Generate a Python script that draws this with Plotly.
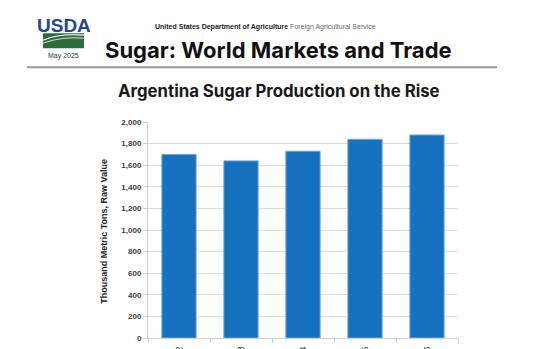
import plotly.graph_objects as go

# Marketing years and production (thousand metric tons, raw value)
years = ["2021/22", "2022/23", "2023/24", "2024/25", "2025/26"]
production = [1700, 1640, 1730, 1840, 1880]
y_ticks = [0, 200, 400, 600, 800, 1000, 1200, 1400, 1600, 1800, 2000]
y_tick_text = ["{:,}".format(v) for v in y_ticks]

W, H = 560, 349
L, R, T, B = 148, 458, 122, 338.5  # plot area in pixels


def px(x):
    return (x - L) / (R - L)


def py(y):
    return (B - y) / (B - T)


def note(x, y, text, font, **kw):
    return dict(x=px(x), y=py(y), xref="paper", yref="paper", text=text,
                showarrow=False, font=font, yanchor="middle", **kw)


fig = go.Figure()
fig.add_trace(go.Bar(
    x=years, y=production,
    marker=dict(color="#1670BE", line=dict(color="#6FA8DC", width=1)),
    hoverinfo="x+y",
))

annotations = [
    # masthead
    note(63.5, 25, "<b>USDA</b>",
         dict(family="Liberation Sans Narrow, Arial Narrow, Liberation Sans", size=19, color="#23488A"),
         xanchor="center"),
    note(63.5, 56, "May 2025",
         dict(family="Liberation Sans, Arial", size=7, color="#333333"),
         xanchor="center"),
    note(153, 27,
         "<b>United States Department of Agriculture</b> <span style='color:#666666'>Foreign Agricultural Service</span>",
         dict(family="Liberation Sans, Arial", size=7, color="#222222"),
         xanchor="left"),
    note(103, 50, "<b>Sugar: World Markets and Trade</b>",
         dict(family="Inter, Roboto, sans-serif", size=22, color="#111111"),
         xanchor="left"),
    # chart title
    note(279, 90.5, "<b>Argentina Sugar Production on the Rise</b>",
         dict(family="Inter, Roboto, sans-serif", size=16.8, color="#1a1a1a"),
         xanchor="center"),
    # y-axis title
    note(104, 232, "<b>Thousand Metric Tons, Raw Value</b>",
         dict(family="Liberation Sans Narrow, Liberation Sans, Arial", size=9, color="#262626"),
         xanchor="center", textangle=-90),
]

shapes = [
    # logo field
    dict(type="rect", xref="paper", yref="paper",
         x0=px(43), x1=px(84), y0=py(48), y1=py(33),
         fillcolor="#2F6B3C", line=dict(width=0)),
    dict(type="path", xref="paper", yref="paper",
         path="M {} {} Q {} {} {} {}".format(px(43), py(40), px(60), py(33), px(84), py(35)),
         line=dict(color="white", width=1.2)),
    dict(type="path", xref="paper", yref="paper",
         path="M {} {} Q {} {} {} {}".format(px(43), py(43), px(62), py(36), px(84), py(38)),
         line=dict(color="#CFE3D2", width=1)),
    # masthead rule
    dict(type="line", xref="paper", yref="paper",
         x0=px(27), x1=px(497), y0=py(67), y1=py(67),
         line=dict(color="#9a9a9a", width=2)),
]

fig.update_layout(
    width=W, height=H,
    margin=dict(l=L, r=W - R, t=T, b=H - B, autoexpand=False),
    paper_bgcolor="white", plot_bgcolor="white",
    bargap=0.447,
    showlegend=False,
    annotations=annotations,
    shapes=shapes,
    xaxis=dict(
        type="category", tickson="boundaries",
        ticks="outside", ticklen=4, tickcolor="#D0D0D0", tickwidth=1,
        showline=True, linecolor="#D0D0D0", linewidth=1,
        showgrid=False, tickangle=-90, ticklabelstandoff=4,
        tickfont=dict(family="Liberation Sans, Arial", size=9, color="#262626"),
        automargin=False,
    ),
    yaxis=dict(
        range=[0, 2000], tickvals=y_ticks, ticktext=y_tick_text,
        ticks="outside", ticklen=4, tickcolor="#D0D0D0", tickwidth=1,
        showline=True, linecolor="#D0D0D0", linewidth=1,
        showgrid=True, gridcolor="#DCDCDC", gridwidth=1,
        zeroline=False,
        tickfont=dict(family="Liberation Sans, Arial", size=8, color="#404040", weight="bold"),
        automargin=False,
    ),
)

fig.write_html("out.html")
